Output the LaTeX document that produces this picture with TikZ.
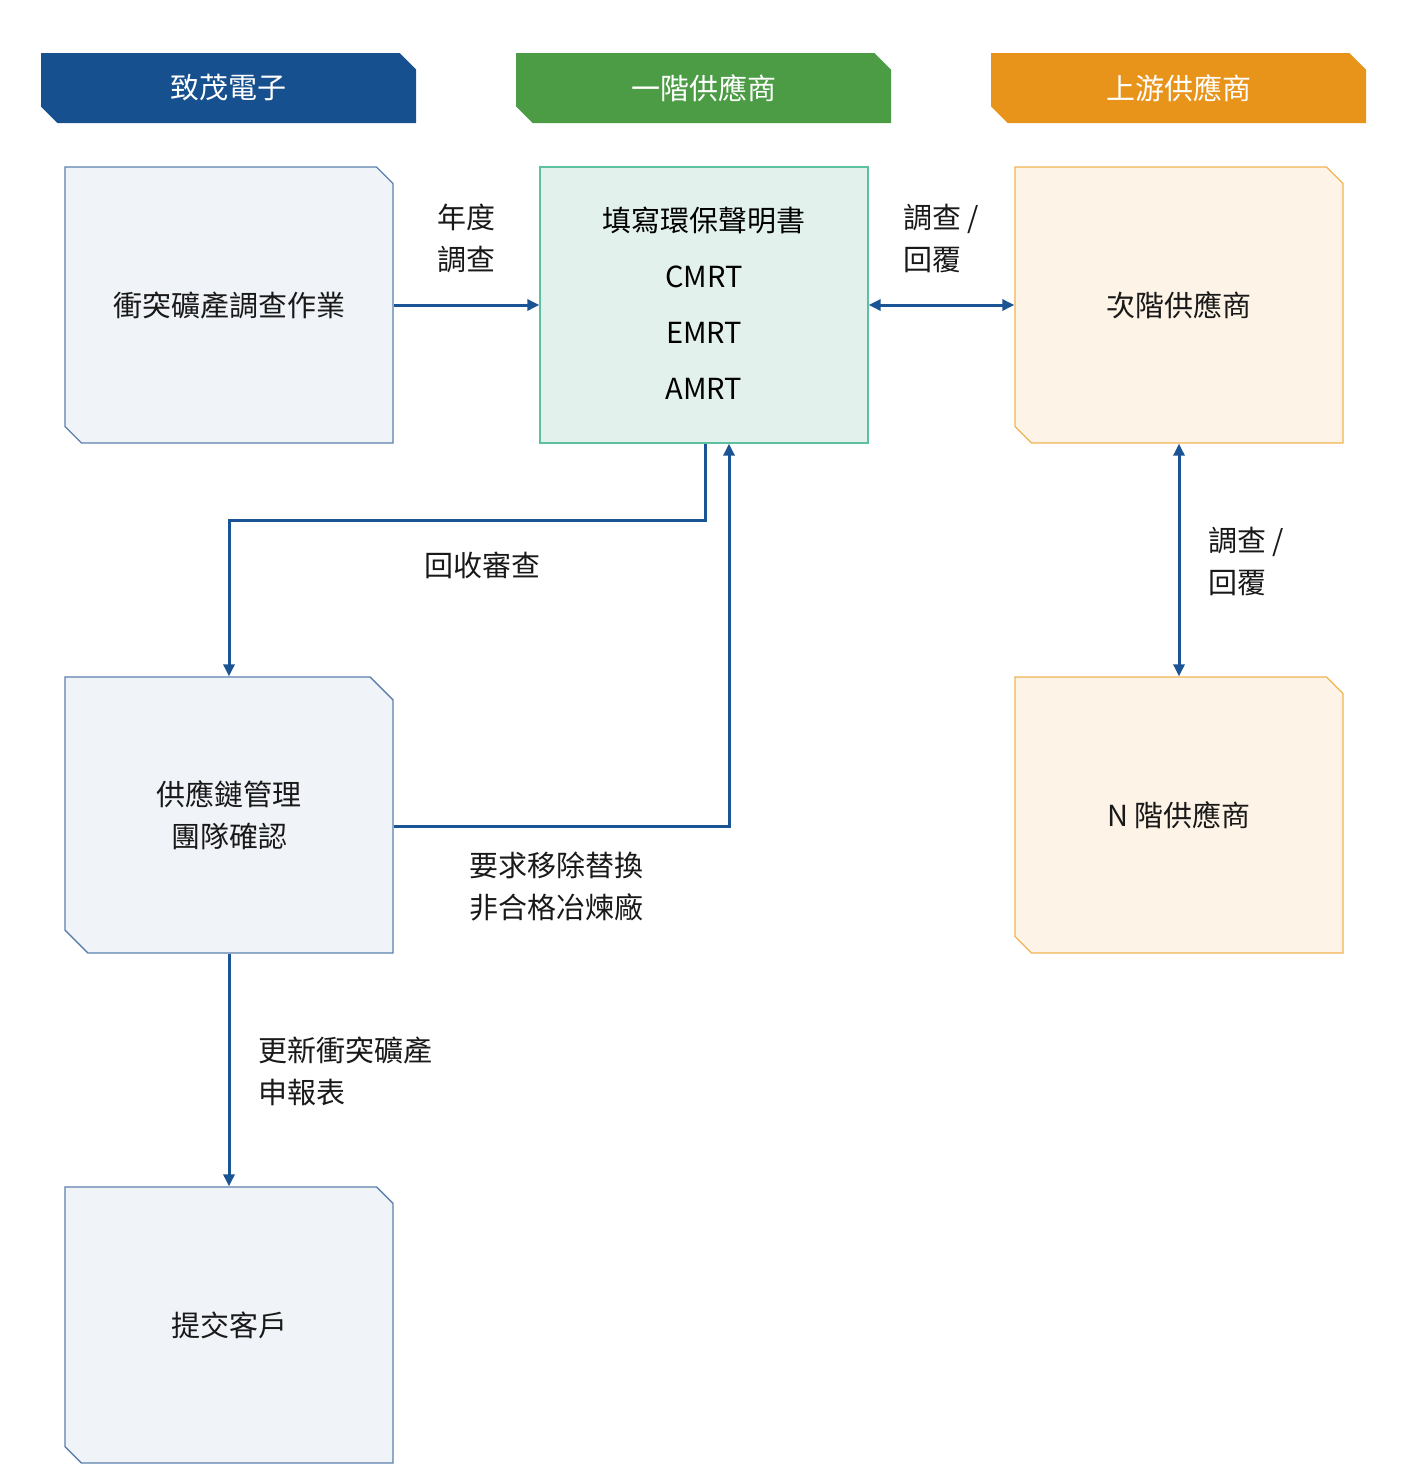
\documentclass[tikz,border=0pt]{standalone}
\usepackage{fontspec}
\newfontfamily\cjk{Noto Sans CJK TC}
\usetikzlibrary{shapes.misc,arrows.meta}
\definecolor{hblue}{HTML}{17508E}
\definecolor{hgreen}{HTML}{4C9C45}
\definecolor{horange}{HTML}{E8941A}
\definecolor{ablue}{HTML}{1A5494}
\definecolor{bfill}{HTML}{F0F4F8}
\definecolor{bline}{HTML}{5B80AC}
\definecolor{gfill}{HTML}{E3F1EC}
\definecolor{gline}{HTML}{5DC0A0}
\definecolor{ofill}{HTML}{FDF3E6}
\definecolor{oline}{HTML}{F0B450}
\begin{document}
\begin{tikzpicture}[x=1pt,y=-1pt,
  font=\cjk\fontsize{29}{34}\selectfont,
  hdr/.style={chamfered rectangle,chamfered rectangle corners={north east,south west},
    chamfered rectangle xsep=18pt,minimum width=375pt,minimum height=70pt,inner sep=0pt,
    text=white,draw=none},
  box/.style={chamfered rectangle,chamfered rectangle corners={north east,south west},
    chamfered rectangle xsep=20pt,minimum width=328pt,minimum height=276pt,inner sep=0pt,
    line width=1.3pt,align=center,text=black!90},
  bbox/.style={box,fill=bfill,draw=bline},
  gbox/.style={box,fill=gfill,draw=gline},
  obox/.style={box,fill=ofill,draw=oline},
  arr/.style={draw=ablue,line width=3pt,-{Triangle[length=12pt,width=11pt]}},
  darr/.style={arr,{Triangle[length=12pt,width=11pt]}-{Triangle[length=12pt,width=11pt]}},
  lbl/.style={align=left,text=black!90,inner sep=0pt}]
\useasboundingbox (0,0) rectangle (1401,1478);
\node[hdr,fill=hblue] (h1) at (228.5,88) {致茂電子};
\node[hdr,fill=hgreen] (h2) at (703.5,88) {一階供應商};
\node[hdr,fill=horange] (h3) at (1178.5,88) {上游供應商};

\node[bbox] (b1) at (229,305) {衝突礦產調查作業};
\node[gbox] (g1) at (704,305) {};
\node (t1) at (704,220) {填寫環保聲明書};
\node (t2) at (704,277) {CMRT};
\node (t3) at (704,333) {EMRT};
\node (t4) at (704,389) {AMRT};
\node[obox] (o1) at (1179,305) {次階供應商};
\node[bbox] (b2) at (229,815) {供應鏈管理\\[8pt]團隊確認};
\node[obox] (o2) at (1179,815) {N 階供應商};
\node[bbox] (b3) at (229,1325) {提交客戶};

\draw[arr] (b1.east) -- (g1.west);
\node[lbl] (l1) at (466,238) {年度\\[8pt]調查};
\draw[darr] (g1.east) -- (o1.west);
\node[lbl] (l2) at (941,238) {調查 /\\[8pt]回覆};
\draw[darr] (o1.south) -- (o2.north);
\node[lbl,anchor=west] (l3) at (1208,561) {調查 /\\[8pt]回覆};
\coordinate (c1) at (705,520);
\coordinate (c2) at (229,520);
\draw[arr] (g1.south -| c1) -- (c1) -- (c2) -- (b2.north);
\node[lbl] (l4) at (482,565) {回收審查};
\coordinate (c3) at (729,826);
\draw[arr] (b2.east |- c3) -- (c3) -- (g1.south -| c3);
\node[lbl,anchor=west] (l5) at (469,887) {要求移除替換\\[8pt]非合格冶煉廠};
\draw[arr] (b2.south) -- (b3.north);
\node[lbl,anchor=west] (l6) at (258,1071) {更新衝突礦產\\[8pt]申報表};
\end{tikzpicture}
\end{document}
